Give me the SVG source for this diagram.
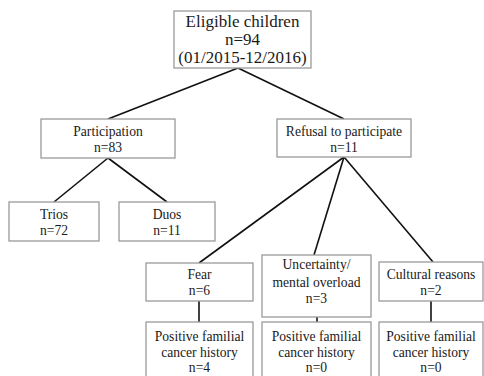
<svg xmlns="http://www.w3.org/2000/svg" width="484" height="376" viewBox="0 0 484 376">
<style>
.box{fill:#fff;stroke:#9a9a9a;stroke-width:1.3}
.c{stroke:#111;stroke-width:1.6;fill:none}
</style>
<rect width="484" height="376" fill="#fff"/>
<g id="connectors">
<line class="c" x1="238" y1="68" x2="108" y2="119"/>
<line class="c" x1="238" y1="68" x2="344" y2="119"/>
<line class="c" x1="108" y1="158" x2="54" y2="202"/>
<line class="c" x1="108" y1="158" x2="167" y2="202"/>
<line class="c" x1="344" y1="157" x2="199" y2="263"/>
<line class="c" x1="344" y1="157" x2="314" y2="255"/>
<line class="c" x1="344" y1="157" x2="433" y2="262"/>
<line class="c" x1="199" y1="301" x2="199" y2="322"/>
<line class="c" x1="317" y1="317" x2="317" y2="322"/>
<line class="c" x1="431" y1="301" x2="431" y2="322"/>
</g>
<g font-family="Liberation Serif, Times New Roman, serif" font-size="13.6" fill="#1a1a1a" text-anchor="middle">
<g id="eligible" font-size="17">
<rect class="box" x="174" y="11" width="137" height="57"/>
<text x="242.5" y="27">Eligible children</text>
<text x="242.5" y="45">n=94</text>
<text x="242.5" y="63">(01/2015-12/2016)</text>
</g>
<g id="participation">
<rect class="box" x="41" y="119" width="134" height="39"/>
<text x="108" y="136">Participation</text>
<text x="108" y="151.5">n=83</text>
</g>
<g id="refusal">
<rect class="box" x="277" y="119" width="134" height="38"/>
<text x="344" y="136">Refusal to participate</text>
<text x="344" y="151.5">n=11</text>
</g>
<g id="trios">
<rect class="box" x="9" y="202" width="90" height="39"/>
<text x="54" y="219">Trios</text>
<text x="54" y="235">n=72</text>
</g>
<g id="duos">
<rect class="box" x="119" y="202" width="96" height="39"/>
<text x="167" y="219">Duos</text>
<text x="167" y="235">n=11</text>
</g>
<g id="fear">
<rect class="box" x="146" y="263" width="107" height="38"/>
<text x="199.5" y="279">Fear</text>
<text x="199.5" y="295">n=6</text>
</g>
<g id="uncertainty">
<rect class="box" x="262" y="255" width="109" height="62"/>
<text x="316.5" y="269">Uncertainty/</text>
<text x="316.5" y="287">mental overload</text>
<text x="316.5" y="303">n=3</text>
</g>
<g id="cultural">
<rect class="box" x="379" y="262" width="104" height="39"/>
<text x="431" y="279">Cultural reasons</text>
<text x="431" y="295">n=2</text>
</g>
<g id="fear-history">
<rect class="box" x="146" y="322" width="107" height="60"/>
<text x="199.5" y="341">Positive familial</text>
<text x="199.5" y="357">cancer history</text>
<text x="199.5" y="372">n=4</text>
</g>
<g id="uncertainty-history">
<rect class="box" x="262" y="322" width="109" height="60"/>
<text x="316.5" y="341">Positive familial</text>
<text x="316.5" y="357">cancer history</text>
<text x="316.5" y="372">n=0</text>
</g>
<g id="cultural-history">
<rect class="box" x="379" y="322" width="104" height="60"/>
<text x="431" y="341">Positive familial</text>
<text x="431" y="357">cancer history</text>
<text x="431" y="372">n=0</text>
</g>
</g>
</svg>
